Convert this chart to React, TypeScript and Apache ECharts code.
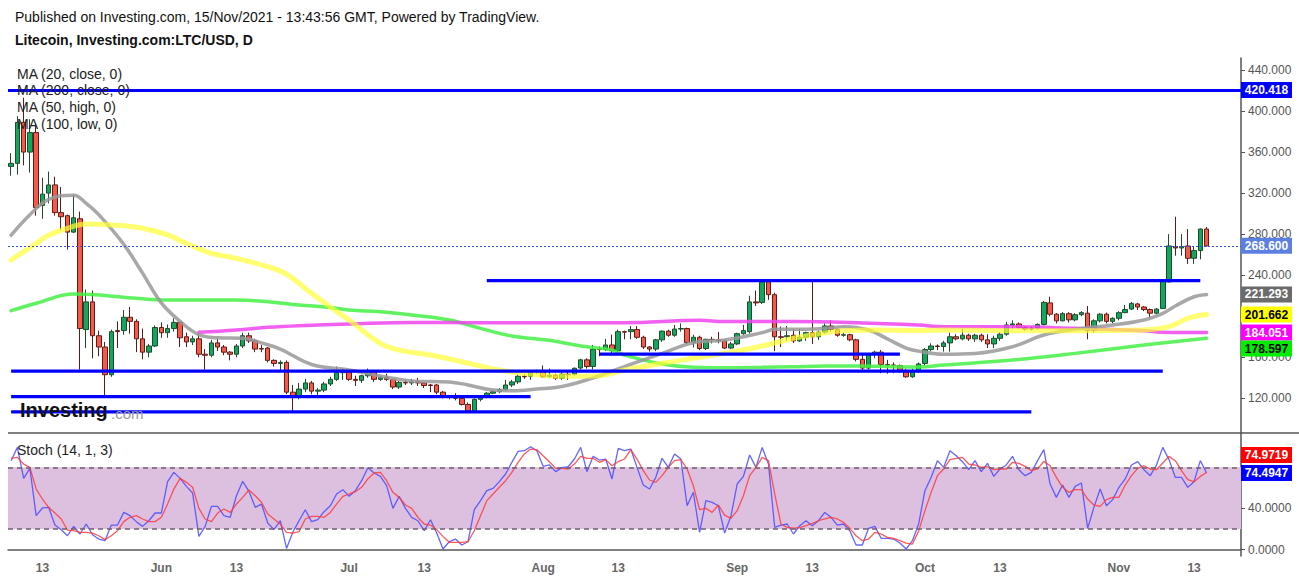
import React, { useEffect, useRef } from 'react';
import * as echarts from 'echarts';

// ---------- categories (daily, 2021-05-08 .. 2021-11-20; last 5 are empty right padding) ----------
const START = Date.UTC(2021, 4, 8);
const N_DAYS = 197;
const dates: string[] = Array.from({ length: N_DAYS }, (_, i) =>
  new Date(START + i * 86400000).toISOString().slice(0, 10)
);
const MONTHS = ['Jan', 'Feb', 'Mar', 'Apr', 'May', 'Jun', 'Jul', 'Aug', 'Sep', 'Oct', 'Nov', 'Dec'];

// ---------- LTC/USD daily candles [open, high, low, close] from 2021-05-08 ----------
const ohlc: number[][] = [
  [346,359,337,349],[349,395,338,389],[389,413,347,360],[360,392,340,379],[379,388,298,306],
  [308,335,295,319],[320,341,310,328],[328,336,298,301],[301,326,284,297],[298,299,265,282],
  [282,318,281,296],[295,302,148,188],[187,226,169,214],[214,225,159,181],[181,186,161,170],
  [170,175,121,143],[143,187,141,185],[186,195,169,185],[186,206,182,199],[199,209,183,195],
  [195,197,165,178],[178,188,158,165],[165,173,160,171],[171,191,170,189],[189,194,179,184],
  [184,192,179,188],[188,198,185,194],[194,195,170,179],[180,184,170,175],[175,181,172,178],
  [178,183,160,163],[163,168,148,162],[162,177,160,174],[174,178,166,170],[170,172,162,165],
  [165,166,157,163],[163,173,160,171],[171,184,169,181],[181,184,174,176],[176,178,165,168],
  [168.5,172,165,168],[169,170,155,157],[157,158,151,154],[154,157,146,155],[155,157,124,126],
  [126,133,106,121],[121,135,119,129],[129,139,126,135],[135,137,124,127],[127,130,123,128],
  [128,136,126,134],[134,141,132,138.5],[138.5,151,137,145],[145,149,138,145.5],[145.5,146,137,138.5],
  [138.5,142,132,137.5],[137.5,143,135,142],[142,149,140,146],[146,147,136,138.5],[138.5,142,137,140.5],
  [140.5,144,137,138.5],[138.5,139,129,131],[131,137,129,135.5],[135.5,138,133,135],[135,139,133,136],
  [136,140,132,135],[135,136,130,132.5],[133,134,126,132.5],[133,134,124,126],[126,127,120,121.5],
  [121.5,123,119,121],[121.5,125,118,120],[120,121,113,114],[114,116,106,107.5],[107.5,120,106,119],
  [119,123,117,122],[122,126,120,125],[125,128,124,126.5],[126.5,130,125,128.5],[128.5,138,127,133],
  [133,138,131,136],[136,143,134,141.5],[141.5,143.5,139,141],[141.5,147,138,146],[146,148,144,146.5],
  [146.5,152,140,141],[141,149,140,142.5],[142.5,144,138,139.5],[139.5,145,138,143.5],[143.5,146,138,143],
  [143.5,150,142,149.3],[149.5,158.5,148,157.5],[157.5,159,149,151],[151,172,148,168],[168,170.5,161,167.5],
  [167.5,178,166,172],[172,182,162,166.5],[166.5,187,165,185],[185,186,177.5,184.5],[185,190.5,177.5,187],
  [187,190.5,178,179.5],[179.5,181,168,170],[170,171,165.5,168],[168,178,166,177],[177,186,175,185.5],
  [185.5,187,180,181.5],[181.5,191.5,180,187.5],[187.5,193,185,188],[188,189,173,174.5],[174.5,182,169.5,179.5],
  [179.5,181,167,168.5],[168.5,178,167,177.5],[177.5,180,173.5,177],[177,184.7,173.6,176],[176,177,168,169],
  [169,175,168,173],[173,184,172,183],[183,191.5,182,186],[185,220,183,214],[214,225,210,213],
  [213.5,235,212,233.5],[233.5,235,216,221],[221,223,166,180],[180,190,170,179.5],[180,190.5,176,181],
  [181.5,187.5,174,176],[176,187.5,175,179.5],[179.5,185,176,184],[184,235,173,180],[180,186,177,184.5],
  [184.5,193,183,190.5],[190.5,196,185,187],[187,188,180,181.5],[181.5,184,180,182],[182,183,175.5,177],
  [177,178,156,158],[158,164,147,149.5],[149.5,164,148,163],[163,166.5,159,165],[165,167,144.5,153],
  [153,157.5,144,152.5],[152.5,155,144.5,152],[152,153,145,146],[146,149,140,141],[141,149,140,146],
  [146,155,145,153.5],[154,169,152,167.5],[167.5,173.5,166,171],[171,172.5,167,170.5],[170.5,176,165.5,174],
  [174,184,165.5,180],[180,182.5,176.5,178],[178,188,176.5,181.5],[181.5,183,176,178],[178,183,175,181.5],
  [181.5,183,175,177],[177,182.5,169,173],[173,181,169,178.5],[178.5,184.5,176,182.5],[182.5,194.5,181,191.5],
  [191.5,196,188,192.5],[192.5,194,188,189],[189,190.5,186,187.5],[187.5,190,186,188.5],[188.5,193,187,192],
  [192,215,191,213.5],[213,219,200,202],[202,203,193,195.5],[195.5,204,195,202.5],[202.5,204,194,196.5],
  [196.5,203,195,201.5],[201.5,205,200,203.5],[203,210,177.5,186],[186,197,184,195.5],[195.5,203,194,202],
  [202,203.5,193,195],[195,199,193,198],[198,205,196,203.5],[203.5,211,203,206.5],[207,214,206,212.5],
  [212,213,206,209],[209,210,205,206.5],[206.5,207.5,198,203],[203,208,202,207],[207.5,236,207,234.5],
  [233.5,280,233,268.5],[267.5,297,259,266.5],[266.5,280,259,268],[268.5,285,251,256.5],[256.5,268.5,251,264],
  [264,285.5,255.5,285],[285,287,268,268.6],
];

// ---------- moving averages, read at sample days [dayIndex, value] ----------
const ma20Close: number[][] = [
  [0,279],[3,299],[6,314],[10,318],[12,310],[14,299],[18,270],[21,242],[24,213],[27,195],[30,182],[33,179],
  [37,178.5],[40,174],[43,168],[48,153],[54,147.6],[59,141.7],[64,137],[70,136],[73,133],[77,128],[80,127.4],
  [84,129],[88,131.5],[93,140],[98,150.8],[104,163.9],[109,174.2],[114,176.8],[120,184],[122,187.2],[125,187.2],
  [130,188.2],[133,189.8],[137,186.6],[140,178],[143,169],[145,166],[149,163],[154,163.8],[160,170.3],
  [165,181.7],[170,187.2],[176,191.4],[181,196.3],[184,202.8],[186,210],[189,219],[191,221.293],
];
const ma50High: number[][] = [
  [0,254.8],[4,271],[6,279],[9,285.7],[12,289.9],[16,289],[21,285.7],[25,279.2],[28,271],[32,261.3],[36,256.4],
  [41,248.3],[44,241],[48,222.3],[51,209],[54,196.3],[59,173.6],[62,167],[67,162.2],[72,155.7],[78,147.6],
  [83,143.7],[88,141.5],[94,142],[98,147.6],[104,154.1],[109,159],[114,163.9],[120,171],[125,178.5],[129,182.7],
  [133,185.9],[138,186.6],[145,186],[149,186.6],[160,185.9],[170,185.9],[181,186.6],[185,189.8],[188,198],
  [191,201.662],
];
const ma100Low: number[][] = [
  [0,205.4],[4,212.6],[10,221.7],[14,220.7],[20,217.5],[25,215.8],[30,215.8],[36,215.8],[41,214.2],[46,211],
  [51,208.5],[54,206],[59,204.4],[64,201.2],[70,196.3],[75,188.2],[80,180.7],[86,176.5],[91,171],[96,167],
  [98,162.2],[104,153.4],[109,150.2],[114,149.8],[120,150.2],[125,150.8],[130,151.5],[135,151.5],[141,150.8],
  [145,150.6],[149,152.5],[160,157.3],[170,163.8],[181,172],[191,178.597],
];
const ma200Close: number[][] = [
  [30,184.3],[36,186.6],[41,189.2],[46,190.8],[54,192.4],[64,194],[75,193.7],[86,193.7],[98,193.7],[110,196],
  [114,194.8],[125,194.8],[135,193.7],[145,191.4],[149,189.8],[160,189.8],[170,188.2],[181,185.9],[184,184.5],
  [191,184.051],
];

// ---------- horizontal support / resistance levels [level, fromDay, toDay] ----------
const levelSegments: number[][] = [
  [234.7, 76, 190],
  [163, 94, 142],
  [146.5, 0, 184],
  [121.7, 0, 83],
  [106.7, 0, 163],
];
const topLevel = 420.418;
const lastPrice = 268.6;

// ---------- Stochastic (14,1,3) ----------
const stochK: number[] = [
  86.5,99.4,69.3,79,33,40.5,41.1,23.9,19.4,13.5,22.6,15.2,24.9,14.5,10.3,8.7,23.9,23.9,36.2,33,
  27.2,22.6,28.1,35.6,35.6,66.1,75.1,69.3,61.5,55,12.9,22.6,42.1,42.1,33,31.4,52.4,66.4,56.7,41.1,
  44.3,25.9,19.4,28.1,1.2,16.8,28.1,38.8,27.2,29.1,36.9,42.7,54.1,58.3,51.8,57.3,67,79.7,74.5,71.2,
  62.2,40.1,51.8,40.1,31.4,28.1,18.4,29.1,16.1,0.6,7.7,10.3,4.5,7.7,38.8,47.6,57.3,59.6,66.1,73.5,
  84.9,95.6,96.2,100,96.2,81,82.3,75.8,79.7,80.6,88.1,99.4,75.8,90.7,87.1,88.1,68.7,98.5,96.2,97.8,
  80,62.8,58.9,70.3,88.8,80,93,88.1,42.7,55.7,16.8,47.6,46,42.7,16.1,32.4,63.8,71.2,92,80,
  99.4,83.2,21.7,23.9,24.9,15.2,23.3,28.1,23.3,28.1,36.2,31.4,23.9,24.9,18.4,4.5,4.5,20.7,22.6,11,
  11,10.3,6.4,0.6,8.7,25,57.3,70.3,86.5,80,96.2,91.3,85.5,77.7,86.5,75.8,83.9,71.2,78.4,82.3,
  90.7,77.7,71.9,75.1,86.5,97.2,63.8,50.8,62.8,50.8,61.5,64.8,20.7,41.1,58.9,42.7,48.6,60.6,68.7,82.3,
  85.5,77.7,71.9,82.3,99.4,87.5,70.3,70.3,60.6,66.1,86.5,74.4947,
];
const stochD: number[] = [
  88.8,89.7,83.2,80,58.9,49.2,41.1,35.6,29.8,19.1,18.4,16.8,16.8,16.1,13.5,9.7,13.5,18.4,27.2,31.4,
  33,29.8,27.2,27.2,31.4,44.3,58.9,69.3,65.4,60.6,40.1,29.8,27.2,35.6,39.5,36.2,44.3,50.8,58,52.4,
  46,34.6,29.8,24.9,16.8,16.1,17.4,29.8,32.4,32.4,31.4,36.2,44.3,51.8,54.1,56.3,60.6,68.7,74.5,75.1,
  67,55.7,50.8,43.4,40.1,31.4,24.9,23.9,19.4,12.9,7.1,7.1,7.1,7.7,18.4,33,47.6,54.1,60.6,67,
  75.1,84.9,93,97.8,97.2,91.3,85.5,79,79,78.4,83.2,90.7,88.8,88.8,84.9,87.5,81.6,85.5,88.1,97.2,
  88.1,76.8,67.7,65.4,71.9,80,86.5,87.5,78.4,62.2,38.8,40.1,36.2,43.4,33.6,30.4,37.9,52.4,71.9,80,
  89.7,86.5,54.1,24.9,21.7,21,21.3,23.3,25.5,28.1,29.8,31.4,29.8,26.5,20.7,13.5,8.7,10.3,16.8,15.2,
  11.9,11,8.7,6.4,5.4,18,37.9,55.7,71.9,78.4,87.5,88.8,89.7,83.2,82.3,80,80.6,77.7,78.4,78.4,
  84.9,83.9,81,76.8,78.4,85.8,81.6,70.3,60.6,55.7,58.3,58.3,49.2,43.4,42.1,48.6,50.8,50.8,62.8,71.9,
  79,81.6,78.4,77.7,84.2,90.7,86.5,76.8,68,66.1,71.2,74.9719,
];

// ---------- axis ticks (200.000 sits fully under the yellow tag, so it has a tick but no label) ----------
const priceTicks = [120, 160, 200, 240, 280, 320, 360, 400, 440];
const priceTickLabels = [120, 160, 240, 280, 320, 360, 400, 440];
const stochTicks = [0, 40];

const FONT = 'Arial, "Liberation Sans", Helvetica, sans-serif';

const toPairs = (arr: number[][]) => arr.map(([i, v]) => [dates[i], v]);

function buildOption() {
  const maLine = (name: string, data: number[][], color: string, width: number, opacity: number, z: number) => ({
    name, type: 'line', xAxisIndex: 0, yAxisIndex: 0, data: toPairs(data), smooth: 0.4,
    showSymbol: false, symbol: 'none', silent: true, z,
    lineStyle: { color, width, opacity, cap: 'round' },
  });
  const segs = levelSegments.map(([lvl, a, b], k) => ({
    name: 'level' + k, type: 'line', xAxisIndex: 0, yAxisIndex: 0, symbol: 'none', silent: true, z: 6,
    data: [[dates[a], lvl], [dates[b], lvl]],
    lineStyle: { color: '#0000ff', width: 3.2 },
  }));
  return {
    animation: false,
    backgroundColor: '#ffffff',
    textStyle: { fontFamily: FONT },
    grid: [
      { left: 8, width: 1233, top: 58, height: 375 },
      { left: 8, width: 1233, top: 433, height: 123 },
    ],
    xAxis: [
      {
        type: 'category', gridIndex: 0, data: dates, boundaryGap: true,
        axisLine: { show: false }, axisTick: { show: false }, axisLabel: { show: false }, splitLine: { show: false },
      },
      {
        type: 'category', gridIndex: 1, data: dates, boundaryGap: true,
        axisLine: { show: true, lineStyle: { color: '#555', width: 1.5 } },
        axisTick: { show: false }, splitLine: { show: false },
        axisLabel: {
          interval: (_i: number, v: string) => v.slice(8) === '01' || v.slice(8) === '13',
          formatter: (v: string) => (v.slice(8) === '01' ? MONTHS[+v.slice(5, 7) - 1] : v.slice(8)),
          color: '#666', fontSize: 12, fontWeight: 'bold', margin: 6, fontFamily: FONT,
        },
      },
    ],
    yAxis: [
      {
        type: 'value', gridIndex: 0, position: 'right', min: 86.2, max: 451.7,
        splitLine: { show: false },
        axisLine: { show: true, lineStyle: { color: '#555', width: 1.5 } },
        axisTick: { show: true, customValues: priceTicks, length: 4, lineStyle: { color: '#555' } },
        axisLabel: { customValues: priceTickLabels, formatter: (v: number) => v.toFixed(3), color: '#555', fontSize: 12, margin: 7, fontFamily: FONT },
      },
      {
        type: 'value', gridIndex: 1, position: 'right', min: -6.2, max: 113.4,
        splitLine: { show: false },
        axisLine: { show: true, lineStyle: { color: '#555', width: 1.5 } },
        axisTick: { show: true, customValues: stochTicks, length: 4, lineStyle: { color: '#555' } },
        axisLabel: { customValues: stochTicks, formatter: (v: number) => v.toFixed(4), color: '#555', fontSize: 12, margin: 7, fontFamily: FONT },
      },
    ],
    series: [
      {
        name: 'LTC/USD', type: 'candlestick', xAxisIndex: 0, yAxisIndex: 0, z: 2, barWidth: 5,
        data: ohlc.map(([o, h, l, c]) => [o, c, l, h]),
        itemStyle: { color: '#14a65c', color0: '#f45a4b', borderColor: '#1d4d2c', borderColor0: '#641a14', borderWidth: 1 },
        markLine: {
          symbol: 'none', silent: true, label: { show: false }, z: 7,
          data: [
            { yAxis: topLevel, lineStyle: { color: '#0000ff', width: 3.2, type: 'solid' } },
            { yAxis: lastPrice, lineStyle: { color: '#3355dd', width: 1, type: [2, 2] } },
          ],
        },
      },
      maLine('MA (100, low, 0)', ma100Low, '#44f044', 3.5, 0.85, 4),
      maLine('MA (200, close, 0)', ma200Close, '#ee44ee', 3.5, 0.85, 4),
      maLine('MA (20, close, 0)', ma20Close, '#999999', 3.5, 0.85, 5),
      maLine('MA (50, high, 0)', ma50High, '#ffff33', 5, 0.7, 5),
      ...segs,
      {
        name: '%K', type: 'line', xAxisIndex: 1, yAxisIndex: 1, data: stochK, symbol: 'none', silent: true, z: 4,
        lineStyle: { color: '#4a4aff', width: 1.3, opacity: 0.85 },
        markArea: { silent: true, itemStyle: { color: '#ddc0e0' }, data: [[{ yAxis: 20 }, { yAxis: 80 }]] },
        markLine: {
          symbol: 'none', silent: true, label: { show: false },
          lineStyle: { color: '#6f5f6f', width: 1.5, type: [5, 4] },
          data: [{ yAxis: 20 }, { yAxis: 80 }],
        },
      },
      {
        name: '%D', type: 'line', xAxisIndex: 1, yAxisIndex: 1, data: stochD, symbol: 'none', silent: true, z: 4,
        lineStyle: { color: '#ff3b3b', width: 1.3, opacity: 0.85 },
      },
    ],
  };
}

const txt = (id: string, text: string, x: number, y: number, font: string, fill = '#111', align = 'left') => ({
  id, type: 'text', z: 100, silent: true,
  style: { text, x, y, font, fill, textAlign: align, textVerticalAlign: 'middle', align, verticalAlign: 'middle' },
});

const staticGraphics = [
  txt('t1', 'Published on Investing.com, 15/Nov/2021 - 13:43:56 GMT, Powered by TradingView.', 15, 17, `14px ${FONT}`, '#111'),
  txt('t2', 'Litecoin, Investing.com:LTC/USD, D', 15, 40, `bold 14px ${FONT}`, '#111'),
  txt('l1', 'MA (20, close, 0)', 17, 74, `14px ${FONT}`, '#222'),
  txt('l2', 'MA (200, close, 0)', 17, 90, `14px ${FONT}`, '#222'),
  txt('l3', 'MA (50, high, 0)', 17, 107, `14px ${FONT}`, '#222'),
  txt('l4', 'MA (100, low, 0)', 17, 124, `14px ${FONT}`, '#222'),
  txt('st', 'Stoch (14, 1, 3)', 17, 450, `14px ${FONT}`, '#222'),
  txt('lg1', 'Investing', 20, 410, `bold 20px ${FONT}`, '#111'),
  txt('lg2', '.com', 111, 413, `15px ${FONT}`, '#9a9a9a'),
  { id: 'sep', type: 'line', z: 50, silent: true, shape: { x1: 8, y1: 433, x2: 1299, y2: 433 }, style: { stroke: '#555', lineWidth: 1.5 } },
];

function buildLabels(chart: any) {
  const priceTags = [
    { v: topLevel, text: '420.418', bg: '#0000ff', fg: '#fff' },
    { v: lastPrice, text: '268.600', bg: '#5b80e2', fg: '#fff' },
    { v: ma20Close[ma20Close.length - 1][1], text: '221.293', bg: '#6b6b6b', fg: '#fff' },
    { v: ma50High[ma50High.length - 1][1], text: '201.662', bg: '#ffff00', fg: '#000' },
    { v: ma200Close[ma200Close.length - 1][1], text: '184.051', bg: '#ff00ff', fg: '#fff' },
    { v: ma100Low[ma100Low.length - 1][1], text: '178.597', bg: '#00ee00', fg: '#000' },
  ];
  const out: any[] = [];
  let prevY = -Infinity;
  const H = 16;
  priceTags.forEach((t, k) => {
    let y = chart.convertToPixel({ yAxisIndex: 0 }, t.v) as number;
    if (y - prevY < H) y = prevY + H;
    prevY = y;
    out.push({ id: 'pb' + k, type: 'rect', z: 110, silent: true, shape: { x: 1241, y: y - H / 2, width: 51, height: H }, style: { fill: t.bg } });
    out.push({ ...txt('pt' + k, t.text, 1266.5, y, `bold 12px ${FONT}`, t.fg, 'center'), z: 111 });
  });
  const kLast = stochK[stochK.length - 1];
  const dLast = stochD[stochD.length - 1];
  const yK = chart.convertToPixel({ yAxisIndex: 1 }, kLast) as number;
  let yD = chart.convertToPixel({ yAxisIndex: 1 }, dLast) as number;
  if (yK - yD < H + 2) yD = yK - H - 2;
  [
    { y: yD, text: dLast.toFixed(4), bg: '#ff0000' },
    { y: yK, text: kLast.toFixed(4), bg: '#0000ff' },
  ].forEach((t, k) => {
    out.push({ id: 'sb' + k, type: 'rect', z: 110, silent: true, shape: { x: 1241, y: t.y - H / 2, width: 51, height: H }, style: { fill: t.bg } });
    out.push({ ...txt('stt' + k, t.text, 1266.5, t.y, `bold 12px ${FONT}`, '#fff', 'center'), z: 111 });
  });
  return out;
}

export default function App() {
  const ref = useRef<HTMLDivElement>(null);
  useEffect(() => {
    const chart = echarts.init(ref.current as HTMLDivElement, null, { renderer: 'svg' });
    chart.setOption(buildOption() as any);
    const labels = buildLabels(chart);
    chart.setOption({ graphic: { elements: [...staticGraphics, ...labels] } } as any);
    return () => chart.dispose();
  }, []);
  return <div ref={ref} style={{ position: 'absolute', left: 0, top: 0, width: 1299, height: 580 }} />;
}
